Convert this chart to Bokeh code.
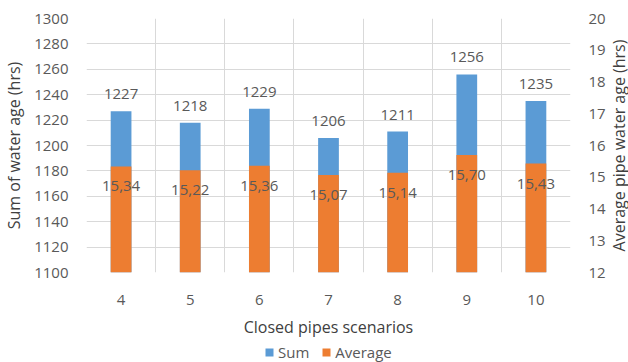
import math
from bokeh.plotting import figure
from bokeh.layouts import column, row
from bokeh.models import Range1d, LinearAxis, FixedTicker, Legend, LegendItem, ColumnDataSource, Label
from bokeh.core.properties import value
from bokeh.embed import file_html
from bokeh.resources import INLINE

scenarios = [4, 5, 6, 7, 8, 9, 10]
sum_age = [1227, 1218, 1229, 1206, 1211, 1256, 1235]
avg_age = [15.34, 15.22, 15.36, 15.07, 15.14, 15.70, 15.43]
sum_labels = [str(v) for v in sum_age]
avg_labels = [f"{v:.2f}".replace(".", ",") for v in avg_age]
series_names = ["Sum", "Average"]
left_ticks = list(range(1100, 1301, 20))
right_ticks = list(range(12, 21))
right_title = "Average pipe water age (hrs)"

FONT = "Open Sans"
GREY = "#595959"
BLUE = "#5b9bd5"
ORANGE = "#ed7d31"

src = ColumnDataSource(dict(x=scenarios, s=sum_age, a=avg_age, sl=sum_labels, al=avg_labels,
                            base_s=[1100] * 7, base_a=[12] * 7))

p = figure(width=608, height=340, output_backend="svg", toolbar_location=None,
           x_range=Range1d(3.5, 10.5), y_range=Range1d(1100, 1300),
           min_border_left=83, min_border_right=37, min_border_top=18, min_border_bottom=68)
p.outline_line_color = None
p.extra_y_ranges = {"avg": Range1d(12, 20)}

p.xgrid.ticker = FixedTicker(ticks=[3.5 + i for i in range(8)])
p.xgrid.grid_line_color = "#d9d9d9"
p.ygrid.ticker = FixedTicker(ticks=left_ticks)
p.ygrid.grid_line_color = "#d9d9d9"

ax = p.xaxis[0]
ax.ticker = FixedTicker(ticks=scenarios)
ax.axis_label = "Closed pipes scenarios"
ay = p.yaxis[0]
ay.ticker = FixedTicker(ticks=left_ticks)
ay.axis_label = "Sum of water age (hrs)"

ry = LinearAxis(y_range_name="avg", ticker=FixedTicker(ticks=right_ticks))
p.add_layout(ry, "right")

for a in [ax, ay, ry]:
    a.axis_line_color = None
    a.major_tick_line_color = None
    a.minor_tick_line_color = None
    a.major_label_text_font = FONT
    a.major_label_text_font_size = "15px"
    a.major_label_text_color = GREY
    a.axis_label_text_font = FONT
    a.axis_label_text_font_size = "16px"
    a.axis_label_text_font_style = "normal"
    a.axis_label_text_color = "#404040"
ax.major_label_standoff = 16
ax.axis_label_standoff = 8
ay.major_label_standoff = 12
ry.major_label_standoff = 12
ay.axis_label_standoff = 6

b1 = p.vbar(x="x", bottom="base_s", top="s", width=0.3, source=src, fill_color=BLUE, line_color=None)
b2 = p.vbar(x="x", bottom="base_a", top="a", width=0.3, source=src, fill_color=ORANGE, line_color=None,
            y_range_name="avg")

p.text(x="x", y="s", text="sl", source=src, text_align="center", text_baseline="middle", y_offset=-17,
       text_font=value(FONT), text_font_size="15px", text_color=GREY)
p.text(x="x", y="a", text="al", source=src, text_align="center", text_baseline="middle", y_offset=20,
       text_font=value(FONT), text_font_size="15px", text_color=GREY, y_range_name="avg")

# narrow strip on the right holding the right-axis title (reads bottom-to-top)
tf = figure(width=20, height=340, output_backend="svg", toolbar_location=None,
            x_axis_location=None, y_axis_location=None, min_border=0,
            x_range=Range1d(0, 1), y_range=Range1d(0, 1))
tf.outline_line_color = None
tf.grid.visible = False
tf.add_layout(Label(x=0.5, y=0.5, text=right_title, angle=math.pi / 2,
                    text_align="center", text_baseline="middle",
                    text_font=FONT, text_font_size="16px", text_color="#404040"))

# legend strip below the chart
lf = figure(width=628, height=22, output_backend="svg", toolbar_location=None,
            x_axis_location=None, y_axis_location=None, min_border=0,
            x_range=Range1d(0, 1), y_range=Range1d(0, 1))
lf.outline_line_color = None
lf.grid.visible = False
off = ColumnDataSource(dict(x=[5], top=[5]))
r1 = lf.vbar(x="x", top="top", width=0.1, source=off, fill_color=BLUE, line_color=None)
r2 = lf.vbar(x="x", top="top", width=0.1, source=off, fill_color=ORANGE, line_color=None)
legend = Legend(items=[LegendItem(label=series_names[0], renderers=[r1]),
                       LegendItem(label=series_names[1], renderers=[r2])],
                orientation="horizontal", location=(264, 0), border_line_color=None,
                background_fill_alpha=0, label_text_font=FONT, label_text_font_size="15px",
                label_text_color=GREY, glyph_width=10, glyph_height=10, padding=2, margin=0,
                spacing=12, label_standoff=4, label_height=14)
lf.add_layout(legend, "center")

layout = column(row(p, tf, spacing=0), lf, spacing=0)
open("out.html", "w").write(file_html(layout, INLINE))
